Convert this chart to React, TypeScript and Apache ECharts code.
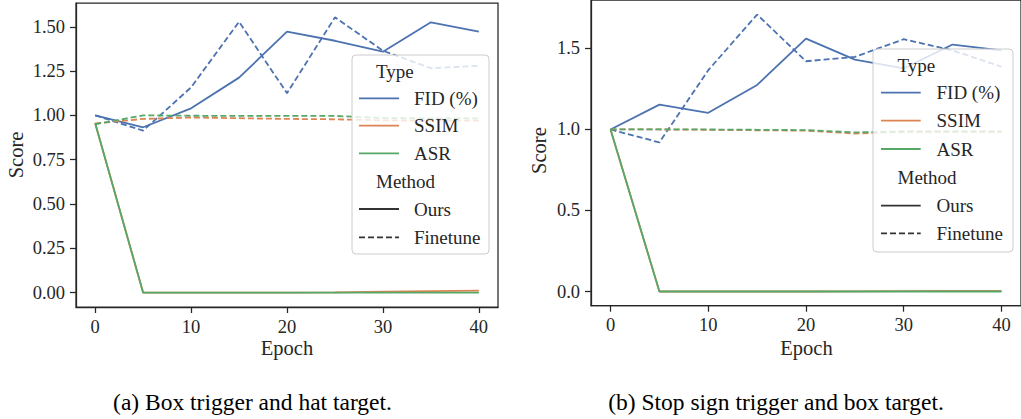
import React, { useEffect, useRef } from "react";
import * as echarts from "echarts";

const epochs = [0, 5, 10, 15, 20, 25, 30, 35, 40];

// (a) Box trigger and hat target
const aFidOurs = [1.0, 0.933, 1.04, 1.213, 1.472, 1.421, 1.359, 1.525, 1.472];
const aFidFinetune = [1.0, 0.914, 1.158, 1.528, 1.125, 1.553, 1.365, 1.266, 1.28];
const aSsimOurs = [0.955, 0, 0, 0, 0, 0.002, 0.005, 0.008, 0.011];
const aSsimFinetune = [0.955, 0.98, 0.988, 0.984, 0.98, 0.978, 0.972, 0.97, 0.97];
const aAsrOurs = [0.955, 0, 0, 0, 0, 0, 0, 0, 0];
const aAsrFinetune = [0.95, 1.0, 0.998, 0.997, 0.997, 0.997, 0.985, 0.983, 0.983];

// (b) Stop sign trigger and box target
const bFidOurs = [1.0, 1.153, 1.103, 1.275, 1.561, 1.431, 1.377, 1.524, 1.488];
const bFidFinetune = [1.0, 0.92, 1.366, 1.709, 1.421, 1.448, 1.557, 1.488, 1.387];
const bSsimOurs = [1.0, 0, 0, 0, 0, 0.001, 0.002, 0.003, 0.004];
const bSsimFinetune = [1.0, 1.0, 0.998, 0.995, 0.993, 0.975, 0.985, 0.985, 0.985];
const bAsrOurs = [1.0, 0, 0, 0, 0, 0, 0, 0, 0];
const bAsrFinetune = [1.0, 1.0, 1.0, 0.998, 0.996, 0.982, 0.988, 0.988, 0.988];

const xTicks = [0, 10, 20, 30, 40];
const aYTicks = [0, 0.25, 0.5, 0.75, 1.0, 1.25, 1.5];
const bYTicks = [0, 0.5, 1.0, 1.5];

const typeNames = ["FID (%)", "SSIM", "ASR"];
const methodNames = ["Ours", "Finetune"];
const captions = ["(a) Box trigger and hat target.", "(b) Stop sign trigger and box target."];

const COLORS = ["#4C72B0", "#DD8452", "#55A868"];
const INK = "#262626";
const FONT = "'Liberation Serif', 'DejaVu Serif', serif";
const DASH = [6, 3];

function pts(vals: number[]) {
  return epochs.map((e, i) => [e, vals[i]]);
}

export default function App() {
  const ref = useRef<HTMLDivElement>(null);
  useEffect(() => {
    if (!ref.current) return;
    const chart = echarts.init(ref.current, null, { renderer: "svg" });

    const panels = [
      { sets: [[aFidOurs, aFidFinetune], [aSsimOurs, aSsimFinetune], [aAsrOurs, aAsrFinetune]] },
      { sets: [[bFidOurs, bFidFinetune], [bSsimOurs, bSsimFinetune], [bAsrOurs, bAsrFinetune]] },
    ];

    const series: any[] = [];
    panels.forEach((p, pi) => {
      p.sets.forEach((pair, ti) => {
        pair.forEach((vals, mi) => {
          series.push({
            type: "line",
            name: typeNames[ti] + " " + methodNames[mi],
            xAxisIndex: pi,
            yAxisIndex: pi,
            data: pts(vals),
            showSymbol: false,
            symbol: "none",
            clip: true,
            lineStyle: { color: COLORS[ti], width: 1.8, type: mi === 0 ? "solid" : DASH },
            z: 2 + ti,
          });
        });
      });
    });

    const axisCommon = {
      axisLine: { show: true, onZero: false, lineStyle: { color: INK, width: 1.25 } },
      axisTick: { show: true, length: 6, lineStyle: { color: INK, width: 1.25 } },
      splitLine: { show: false },
    };

    const xAxis = [0, 1].map((gi) => ({
      type: "value",
      gridIndex: gi,
      min: -2,
      max: 42,
      ...axisCommon,
      axisTick: { ...axisCommon.axisTick, customValues: xTicks },
      axisLabel: {
        customValues: xTicks,
        formatter: (v: number) => String(v),
        color: INK,
        fontFamily: FONT,
        fontSize: 18.5,
        margin: 10,
      },
    }));

    const yAxis = [
      { min: -0.081, max: 1.634, ticks: aYTicks, dec: 2 },
      { min: -0.0876, max: 1.799, ticks: bYTicks, dec: 1 },
    ].map((c, gi) => ({
      type: "value",
      gridIndex: gi,
      min: c.min,
      max: c.max,
      ...axisCommon,
      axisTick: { ...axisCommon.axisTick, customValues: c.ticks },
      axisLabel: {
        customValues: c.ticks,
        formatter: (v: number) => v.toFixed(c.dec),
        color: INK,
        fontFamily: FONT,
        fontSize: 18.5,
        margin: 11,
      },
    }));

    const legendBoxes = [
      { x: 352, y: 55, w: 137, h: 199, title: 376, lx1: 359, lx2: 399, tx: 414, ys: [71.5, 98.3, 125.7, 153.3, 181.5, 209, 237.3] },
      { x: 873, y: 49, w: 140, h: 203, title: 897.5, lx1: 881, lx2: 920.7, tx: 936.5, ys: [65, 92.7, 120.7, 149, 177.3, 205.7, 233.3] },
    ];

    const graphic: any[] = [];
    legendBoxes.forEach((L) => {
      graphic.push({
        type: "rect",
        z: 100,
        shape: { x: L.x, y: L.y, width: L.w, height: L.h, r: 4 },
        style: { fill: "rgba(255,255,255,0.8)", stroke: "#cccccc", lineWidth: 1 },
      });
      const textStyle = (t: string, x: number, y: number) => ({
        type: "text",
        z: 101,
        x,
        y,
        style: { text: t, fill: INK, font: `19px ${FONT}`, textAlign: "left", textVerticalAlign: "middle" },
      });
      graphic.push(textStyle("Type", L.title, L.ys[0]));
      typeNames.forEach((n, i) => {
        graphic.push({
          type: "line",
          z: 101,
          shape: { x1: L.lx1, y1: L.ys[1 + i], x2: L.lx2, y2: L.ys[1 + i] },
          style: { stroke: COLORS[i], lineWidth: 1.8 },
        });
        graphic.push(textStyle(n, L.tx, L.ys[1 + i]));
      });
      graphic.push(textStyle("Method", L.title, L.ys[4]));
      methodNames.forEach((n, i) => {
        graphic.push({
          type: "line",
          z: 101,
          shape: { x1: L.lx1, y1: L.ys[5 + i], x2: L.lx2, y2: L.ys[5 + i] },
          style: { stroke: "#333333", lineWidth: 1.8, lineDash: i === 0 ? null : DASH },
        });
        graphic.push(textStyle(n, L.tx, L.ys[5 + i]));
      });
    });

    // axis titles
    [
      { x: 287, y: 348 },
      { x: 806.5, y: 348 },
    ].forEach((p) =>
      graphic.push({
        type: "text",
        x: p.x,
        y: p.y,
        style: { text: "Epoch", fill: INK, font: `20.5px ${FONT}`, textAlign: "center", textVerticalAlign: "middle" },
      })
    );
    [
      { x: 16, y: 155 },
      { x: 539, y: 150.6 },
    ].forEach((p) =>
      graphic.push({
        type: "text",
        x: p.x,
        y: p.y,
        rotation: Math.PI / 2,
        style: { text: "Score", fill: INK, font: `20.5px ${FONT}`, textAlign: "center", textVerticalAlign: "middle" },
      })
    );
    // captions
    [
      { x: 252.5, y: 402 },
      { x: 776, y: 402 },
    ].forEach((p, i) =>
      graphic.push({
        type: "text",
        x: p.x,
        y: p.y,
        style: { text: captions[i], fill: "#000000", font: `23.5px ${FONT}`, textAlign: "center", textVerticalAlign: "middle" },
      })
    );

    chart.setOption({
      animation: false,
      backgroundColor: "#ffffff",
      grid: [
        { left: 76, top: 3, width: 422, height: 304, show: true, borderColor: INK, borderWidth: 1.25, backgroundColor: "transparent" },
        { left: 591, top: -4.5, width: 431, height: 310.2, show: true, borderColor: INK, borderWidth: 1.25, backgroundColor: "transparent" },
      ],
      xAxis,
      yAxis,
      series,
      graphic,
    });
    return () => chart.dispose();
  }, []);
  return <div ref={ref} style={{ position: "absolute", left: 0, top: 0, width: 1021, height: 419 }} />;
}
